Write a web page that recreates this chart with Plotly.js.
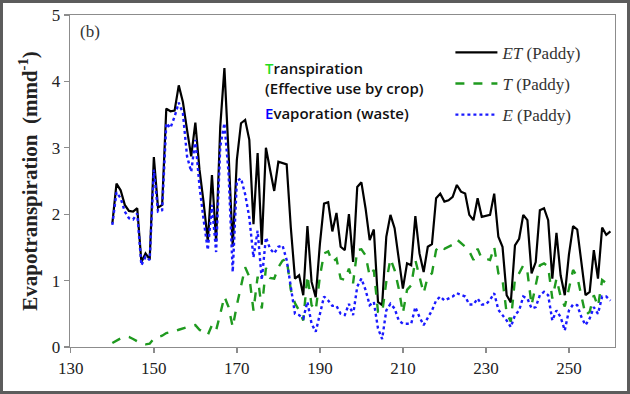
<!DOCTYPE html>
<html>
<head>
<meta charset="utf-8">
<script src="https://cdn.plot.ly/plotly-3.0.1.min.js"></script>
<style>
  html, body { margin: 0; padding: 0; background: #fff; }
  #frame { width: 630px; height: 394px; box-sizing: border-box; border: 3px solid #5c5c5c; background: #fff; }
  #chart { width: 624px; height: 388px; }
</style>
</head>
<body>
<div id="frame"><div id="chart"></div></div>
<script>
// Day of year
const days = [140,141,142,143,144,145,146,147,148,149,
  150,151,152,153,154,155,156,157,158,159,
  160,161,162,163,164,165,166,167,168,169,
  170,171,172,173,174,175,176,177,178,179,
  180,181,182,183,184,185,186,187,188,189,
  190,191,192,193,194,195,196,197,198,199,
  200,201,202,203,204,205,206,207,208,209,
  210,211,212,213,214,215,216,217,218,219,
  220,221,222,223,224,225,226,227,228,229,
  230,231,232,233,234,235,236,237,238,239,
  240,241,242,243,244,245,246,247,248,249,
  250,251,252,253,254,255,256,257,258,259,
  260];

// ET (Paddy), mm/d
const etPaddy = [1.86,2.46,2.36,2.14,2.05,2.04,2.09,1.28,1.41,1.32,
  2.86,2.10,2.14,3.59,3.55,3.56,3.94,3.69,3.27,2.87,
  3.38,2.67,2.17,1.59,2.59,1.59,3.32,4.20,2.92,1.51,
  2.82,3.37,3.42,3.12,1.85,2.92,1.54,3.00,2.67,2.35,
  2.79,2.77,2.75,1.80,1.03,1.08,0.78,1.82,0.98,0.75,
  1.55,2.16,2.18,1.74,2.02,1.51,1.46,2.00,1.28,2.41,
  2.48,2.09,1.61,1.77,0.68,0.63,1.66,1.99,1.79,1.33,
  0.88,1.26,1.23,1.97,1.41,1.13,1.51,1.55,2.24,2.31,
  2.19,2.21,2.26,2.44,2.34,2.31,1.99,1.91,2.24,1.96,
  1.97,1.99,2.31,1.66,1.51,0.78,0.67,1.53,1.63,1.99,
  1.91,1.11,1.28,2.06,2.09,1.91,1.03,1.72,1.08,0.78,
  1.39,1.82,1.77,1.26,0.78,0.83,1.46,1.03,1.80,1.69,
  1.74];

// T (Paddy), mm/d
const tPaddy = [0.06,0.10,0.13,0.15,0.15,0.12,0.08,0.05,0.04,0.05,
  0.13,0.15,0.17,0.21,0.22,0.24,0.26,0.28,0.31,0.32,
  0.33,0.26,0.22,0.18,0.33,0.25,0.50,0.76,0.60,0.30,
  0.63,0.90,1.20,1.06,0.55,1.06,0.58,1.19,1.04,1.03,
  1.20,1.30,1.33,0.86,0.66,0.55,0.40,1.08,0.63,0.55,
  1.06,1.41,1.44,1.28,1.33,1.03,1.01,1.18,0.96,1.46,
  1.47,1.38,1.07,1.16,0.53,0.51,0.98,1.33,1.16,0.88,
  0.51,0.86,0.93,1.31,1.06,0.81,1.06,1.11,1.46,1.53,
  1.48,1.51,1.54,1.62,1.57,1.51,1.44,1.31,1.48,1.33,
  1.33,1.31,1.51,1.11,1.01,0.51,0.38,1.03,1.11,1.23,
  1.13,0.63,0.93,1.23,1.26,1.21,0.73,1.03,0.76,0.61,
  0.88,1.16,1.06,0.76,0.48,0.53,0.78,0.61,1.01,0.96,
  0.98];

// E (Paddy), mm/d
const ePaddy = [1.84,2.33,2.24,2.04,1.94,1.92,2.01,1.23,1.36,1.31,
  2.67,2.04,2.06,3.37,3.30,3.47,3.68,3.52,2.87,2.64,
  3.12,2.42,1.91,1.46,2.14,1.43,3.02,3.37,2.62,1.13,
  2.50,2.54,2.30,1.95,1.35,1.75,1.01,1.65,1.48,1.41,
  1.51,1.53,1.31,0.90,0.50,0.48,0.43,0.68,0.35,0.23,
  0.50,0.76,0.70,0.62,0.62,0.50,0.48,0.65,0.48,0.91,
  1.03,0.86,0.63,0.68,0.28,0.12,0.55,0.65,0.58,0.40,
  0.35,0.35,0.35,0.60,0.45,0.33,0.45,0.55,0.70,0.76,
  0.70,0.73,0.76,0.81,0.78,0.76,0.64,0.64,0.73,0.64,
  0.64,0.71,0.81,0.56,0.48,0.40,0.30,0.48,0.55,0.76,
  0.73,0.58,0.60,0.78,0.83,0.78,0.40,0.55,0.45,0.25,
  0.55,0.64,0.63,0.45,0.33,0.43,0.60,0.50,0.76,0.76,
  0.70];

const xTicks = [130,150,170,190,210,230,250];
const yTicks = [0,1,2,3,4,5];
const seriesNames = ['<i>ET</i> (Paddy)', '<i>T</i> (Paddy)', '<i>E</i> (Paddy)'];

const serif = 'Liberation Serif, Times New Roman, serif';
const noteFont = { family: 'Open Sans, sans-serif', size: 15, color: '#111', weight: 600 };

const traces = [
  { x: days, y: etPaddy, name: seriesNames[0], legendgroup: 'et', type: 'scatter', mode: 'lines',
    line: { color: '#000000', width: 2.2 } },
  { x: days, y: tPaddy, name: seriesNames[1], legendgroup: 't', type: 'scatter', mode: 'lines',
    line: { color: '#1f9a1f', width: 2.4, dash: 'dash' } },
  { x: days, y: ePaddy, name: seriesNames[2], legendgroup: 'e', type: 'scatter', mode: 'lines',
    line: { color: '#1a1aff', width: 2.4, dash: 'dot' } }
];

const axisCommon = {
  showgrid: false, zeroline: false, showline: true, mirror: true,
  linecolor: '#8c8c8c', linewidth: 1.3,
  ticks: 'outside', ticklen: 5, tickcolor: '#8c8c8c', tickwidth: 1.3,
  tickfont: { family: serif, size: 17, color: '#222' }
};

const layout = {
  width: 624, height: 388,
  margin: { l: 67, r: 12, t: 12, b: 44 },
  paper_bgcolor: '#ffffff', plot_bgcolor: '#ffffff',
  showlegend: true,
  legend: {
    x: 0.698, y: 0.94, xanchor: 'left', yanchor: 'top',
    bgcolor: 'rgba(0,0,0,0)',
    font: { family: serif, size: 17, color: '#333' },
    tracegroupgap: 6, itemwidth: 42
  },
  xaxis: Object.assign({}, axisCommon, {
    range: [129.8, 261.1], tickmode: 'array', tickvals: xTicks, ticktext: xTicks.map(String)
  }),
  yaxis: Object.assign({}, axisCommon, {
    range: [0, 5], tickmode: 'array', tickvals: yTicks, ticktext: yTicks.map(String),
    title: { text: '<b>Evapotranspiration  (mmd<sup>-1</sup>)</b>', standoff: 8,
             font: { family: serif, size: 21, color: '#222' } }
  }),
  annotations: [
    { xref: 'paper', yref: 'paper', x: 0.015, y: 0.95, xanchor: 'left', yanchor: 'middle',
      text: '(b)', showarrow: false, font: { family: serif, size: 17, color: '#333' } },
    { xref: 'paper', yref: 'paper', x: 0.355, y: 0.81, xanchor: 'left', yanchor: 'middle', align: 'left',
      text: '<span style="color:#22dd22">T</span>ranspiration<br>(Effective use by crop)',
      showarrow: false, font: noteFont },
    { xref: 'paper', yref: 'paper', x: 0.355, y: 0.705, xanchor: 'left', yanchor: 'middle',
      text: '<span style="color:#0000ff">E</span>vaporation (waste)', showarrow: false, font: noteFont }
  ]
};

Plotly.newPlot('chart', traces, layout, { displayModeBar: false, staticPlot: true });
</script>
</body>
</html>
